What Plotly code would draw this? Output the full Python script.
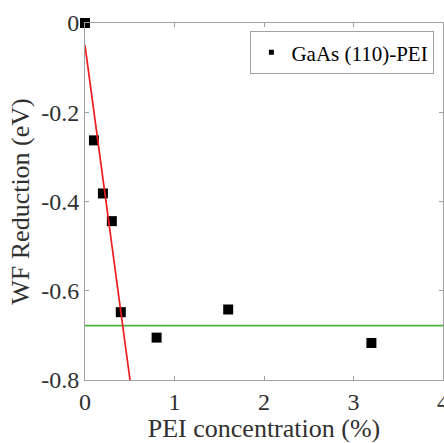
import plotly.graph_objects as go

# data
pei_conc = [0, 0.1, 0.2, 0.3, 0.4, 0.8, 1.6, 3.2]
wf_reduction = [0, -0.263, -0.382, -0.444, -0.648, -0.705, -0.642, -0.717]
fit_x = [0, 0.503]
fit_y = [-0.05, -0.8]
sat_x = [0, 4]
sat_y = [-0.678, -0.678]
x_ticks = [0, 1, 2, 3, 4]
x_labels = ["0", "1", "2", "3", "4"]
y_ticks = [0, -0.2, -0.4, -0.6, -0.8]
y_labels = ["0", "-0.2", "-0.4", "-0.6", "-0.8"]
series_name = "GaAs (110)-PEI"

FONT = "Liberation Serif, Times New Roman, serif"

fig = go.Figure()
fig.add_trace(go.Scatter(x=pei_conc, y=wf_reduction, mode="markers",
                         marker=dict(symbol="square", size=10, color="black"),
                         name=series_name, cliponaxis=False, showlegend=False))
fig.add_trace(go.Scatter(x=sat_x, y=sat_y, mode="lines",
                         line=dict(color="#4cb13c", width=1.7), showlegend=False))
fig.add_trace(go.Scatter(x=fit_x, y=fit_y, mode="lines",
                         line=dict(color="#ee1c1c", width=1.7), showlegend=False))
# legend entry (small square marker as in the reference legend)
fig.add_trace(go.Scatter(x=[None], y=[None], mode="markers",
                         marker=dict(symbol="square", size=5, color="black"),
                         name=series_name))

axis_common = dict(showline=True, linecolor="#a0a0a0", linewidth=1, mirror="ticks",
                   ticks="inside", ticklen=4, tickcolor="#a0a0a0", showgrid=False,
                   zeroline=False, automargin=False, ticklabeloverflow="allow",
                   tickfont=dict(family=FONT, size=24, color="#303030"))

fig.update_layout(
    width=444, height=443,
    margin=dict(l=85, r=1, t=23, b=63),
    plot_bgcolor="white", paper_bgcolor="white",
    font=dict(family=FONT, color="#303030"),
    xaxis=dict(range=[0, 4], tickvals=x_ticks, ticktext=x_labels,
               title=dict(text="PEI concentration (%)", font=dict(family=FONT, size=26), standoff=3),
               **axis_common),
    yaxis=dict(range=[-0.8, 0], tickvals=y_ticks, ticktext=y_labels,
               title=dict(text="WF Reduction (eV)", font=dict(family=FONT, size=26), standoff=4),
               **axis_common),
    legend=dict(x=0.976, y=0.977, xanchor="right", yanchor="top",
                bordercolor="#a0a0a0", borderwidth=1, bgcolor="white",
                font=dict(family=FONT, size=21, color="black"),
                itemwidth=30, tracegroupgap=0),
)

fig.write_html("out.html", config={"displayModeBar": False},
               post_script="document.body.style.margin='0';document.body.style.overflow='hidden';")
